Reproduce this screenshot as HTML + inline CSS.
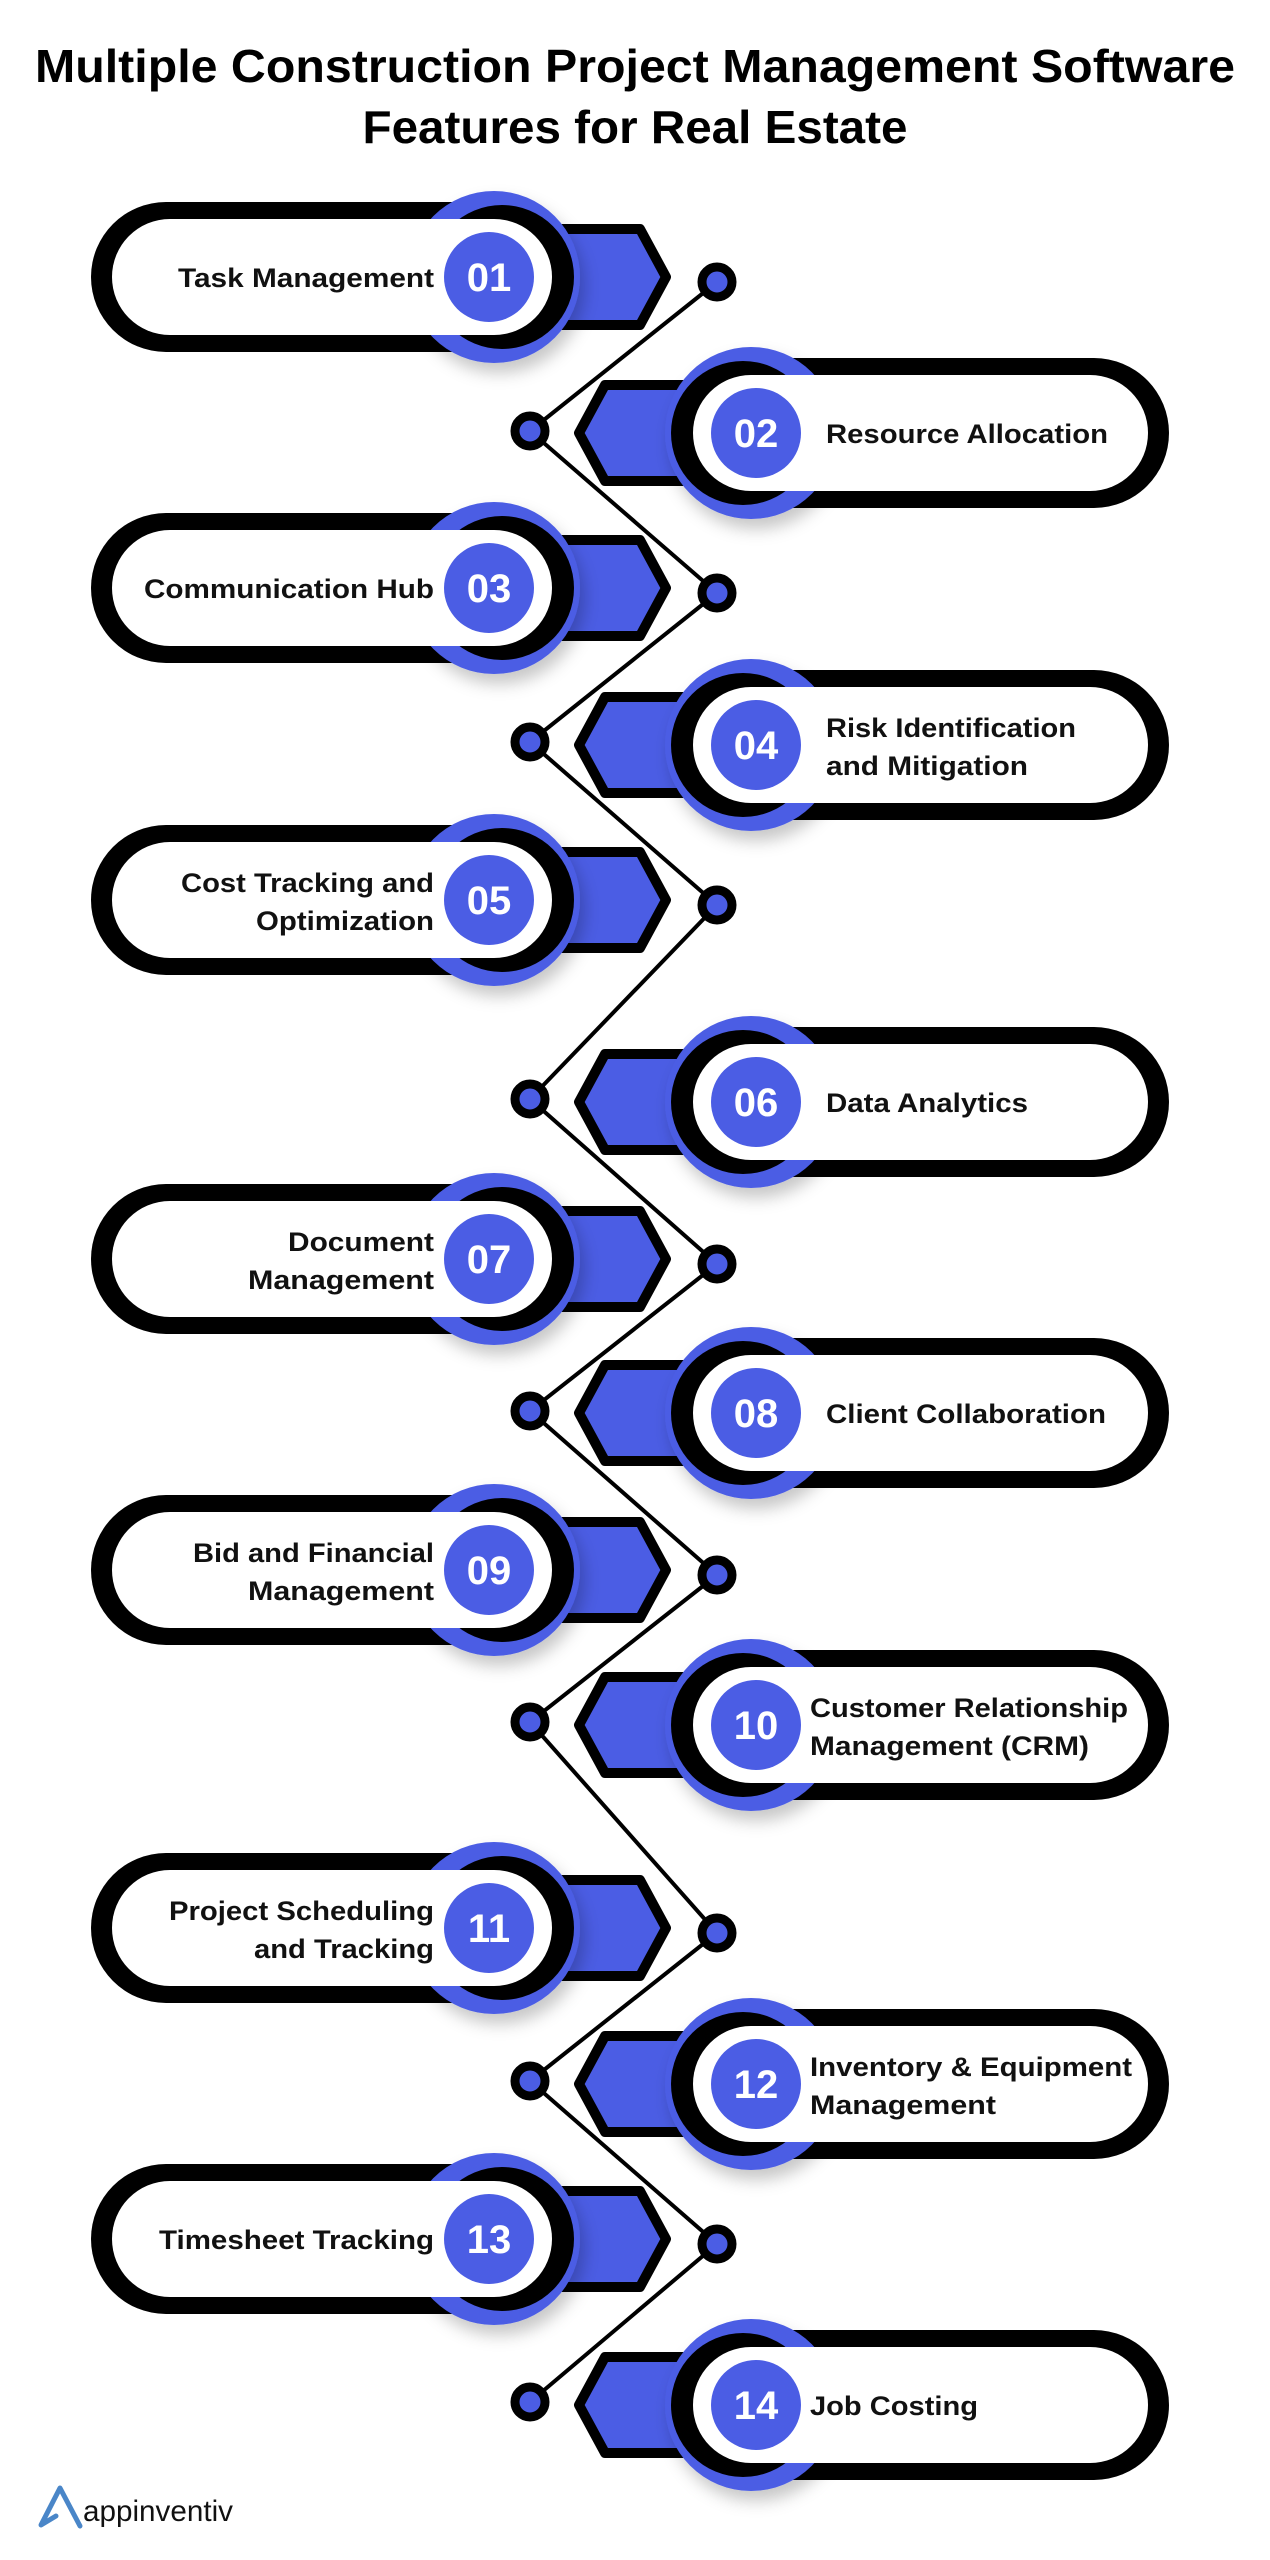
<!DOCTYPE html>
<html><head><meta charset="utf-8"><style>
html,body{margin:0;padding:0;background:#fff;}
svg{display:block;}
text{font-family:"Liberation Sans",sans-serif;}
</style></head><body>
<svg width="1270" height="2560" viewBox="0 0 1270 2560" xmlns="http://www.w3.org/2000/svg">
<defs>
<filter id="sh" x="-30%" y="-30%" width="160%" height="170%"><feDropShadow dx="5" dy="10" stdDeviation="8" flood-color="#000" flood-opacity="0.22"/></filter>
<g id="L">
<rect x="91" y="-75" width="480" height="150" rx="75" fill="#000"/>
<polygon points="548,-48 640,-48 666,0 640,48 548,48" fill="#4b5de4" stroke="#000" stroke-width="10" stroke-linejoin="round"/>
<circle cx="494" cy="0" r="86" fill="#4b5de4" filter="url(#sh)"/>
<circle cx="502" cy="0" r="72" fill="#000"/>
<rect x="112" y="-58" width="440" height="116" rx="58" fill="#fff"/>
<circle cx="489" cy="0" r="45" fill="#4b5de4"/>
</g>
<g id="R">
<rect x="676" y="-75" width="493" height="150" rx="75" fill="#000"/>
<polygon points="697,-48 605,-48 579,0 605,48 697,48" fill="#4b5de4" stroke="#000" stroke-width="10" stroke-linejoin="round"/>
<circle cx="751" cy="0" r="86" fill="#4b5de4" filter="url(#sh)"/>
<circle cx="743" cy="0" r="72" fill="#000"/>
<rect x="693" y="-58" width="455" height="116" rx="58" fill="#fff"/>
<circle cx="756" cy="0" r="45" fill="#4b5de4"/>
</g>
</defs>

<text x="635" y="82" font-size="46" font-weight="bold" text-anchor="middle" textLength="1200" lengthAdjust="spacingAndGlyphs">Multiple Construction Project Management Software</text>
<text x="635" y="143" font-size="46" font-weight="bold" text-anchor="middle" textLength="545" lengthAdjust="spacingAndGlyphs">Features for Real Estate</text>

<polyline points="717,282 530,431 717,593 530,742 717,905 530,1099 717,1264 530,1411 717,1575 530,1722 717,1933 530,2081 717,2244 530,2402" fill="none" stroke="#000" stroke-width="4"/>

<g font-size="27" font-weight="bold" fill="#111">
<use href="#L" y="277"/>
<use href="#R" y="433"/>
<use href="#L" y="588"/>
<use href="#R" y="745"/>
<use href="#L" y="900"/>
<use href="#R" y="1102"/>
<use href="#L" y="1259"/>
<use href="#R" y="1413"/>
<use href="#L" y="1570"/>
<use href="#R" y="1725"/>
<use href="#L" y="1928"/>
<use href="#R" y="2084"/>
<use href="#L" y="2239"/>
<use href="#R" y="2405"/>

<g text-anchor="end">
<text x="434" y="287" textLength="256" lengthAdjust="spacingAndGlyphs">Task Management</text>
<text x="434" y="598" textLength="290" lengthAdjust="spacingAndGlyphs">Communication Hub</text>
<text x="434" y="892" textLength="253" lengthAdjust="spacingAndGlyphs">Cost Tracking and</text>
<text x="434" y="930" textLength="178" lengthAdjust="spacingAndGlyphs">Optimization</text>
<text x="434" y="1251" textLength="146" lengthAdjust="spacingAndGlyphs">Document</text>
<text x="434" y="1289" textLength="186" lengthAdjust="spacingAndGlyphs">Management</text>
<text x="434" y="1562" textLength="241" lengthAdjust="spacingAndGlyphs">Bid and Financial</text>
<text x="434" y="1600" textLength="186" lengthAdjust="spacingAndGlyphs">Management</text>
<text x="434" y="1920" textLength="265" lengthAdjust="spacingAndGlyphs">Project Scheduling</text>
<text x="434" y="1958" textLength="180" lengthAdjust="spacingAndGlyphs">and Tracking</text>
<text x="434" y="2249" textLength="275" lengthAdjust="spacingAndGlyphs">Timesheet Tracking</text>
</g>
<g>
<text x="826" y="443" textLength="282" lengthAdjust="spacingAndGlyphs">Resource Allocation</text>
<text x="826" y="737" textLength="250" lengthAdjust="spacingAndGlyphs">Risk Identification</text>
<text x="826" y="775" textLength="202" lengthAdjust="spacingAndGlyphs">and Mitigation</text>
<text x="826" y="1112" textLength="202" lengthAdjust="spacingAndGlyphs">Data Analytics</text>
<text x="826" y="1423" textLength="280" lengthAdjust="spacingAndGlyphs">Client Collaboration</text>
<text x="810" y="1717" textLength="318" lengthAdjust="spacingAndGlyphs">Customer Relationship</text>
<text x="810" y="1755" textLength="279" lengthAdjust="spacingAndGlyphs">Management (CRM)</text>
<text x="810" y="2076" textLength="322" lengthAdjust="spacingAndGlyphs">Inventory &amp; Equipment</text>
<text x="810" y="2114" textLength="186" lengthAdjust="spacingAndGlyphs">Management</text>
<text x="810" y="2415" textLength="168" lengthAdjust="spacingAndGlyphs">Job Costing</text>
</g>
</g>

<g font-size="40" font-weight="bold" fill="#fff" text-anchor="middle">
<text x="489" y="291">01</text>
<text x="756" y="447">02</text>
<text x="489" y="602">03</text>
<text x="756" y="759">04</text>
<text x="489" y="914">05</text>
<text x="756" y="1116">06</text>
<text x="489" y="1273">07</text>
<text x="756" y="1427">08</text>
<text x="489" y="1584">09</text>
<text x="756" y="1739">10</text>
<text x="489" y="1942">11</text>
<text x="756" y="2098">12</text>
<text x="489" y="2253">13</text>
<text x="756" y="2419">14</text>
</g>

<g fill="#4b5de4" stroke="#000" stroke-width="9">
<circle cx="717" cy="282" r="15"/>
<circle cx="530" cy="431" r="15"/>
<circle cx="717" cy="593" r="15"/>
<circle cx="530" cy="742" r="15"/>
<circle cx="717" cy="905" r="15"/>
<circle cx="530" cy="1099" r="15"/>
<circle cx="717" cy="1264" r="15"/>
<circle cx="530" cy="1411" r="15"/>
<circle cx="717" cy="1575" r="15"/>
<circle cx="530" cy="1722" r="15"/>
<circle cx="717" cy="1933" r="15"/>
<circle cx="530" cy="2081" r="15"/>
<circle cx="717" cy="2244" r="15"/>
<circle cx="530" cy="2402" r="15"/>
</g>

<path d="M56 2516 L41 2525 L60 2488 L80 2526" fill="none" stroke="#4a86c8" stroke-width="5" stroke-linecap="round" stroke-linejoin="round"/>
<text x="83" y="2521" font-size="30" fill="#111" textLength="150" lengthAdjust="spacingAndGlyphs">appinventiv</text>
</svg>
</body></html>
